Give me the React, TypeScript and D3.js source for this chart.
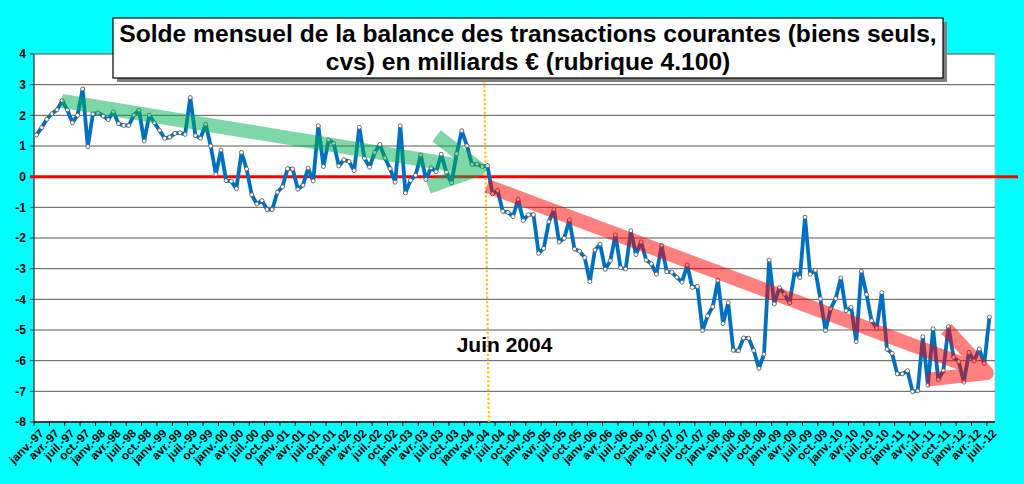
import React, { useRef, useEffect } from 'react';
import * as d3 from 'd3';

// ── Data (milliards €, janv. 1997 → juil. 2012) ───────────────────────────────
const MONTHS = ['janv.', 'févr.', 'mars', 'avr.', 'mai', 'juin', 'juil.', 'août', 'sept.', 'oct.', 'nov.', 'déc.'];
const YEARS = ['97', '98', '99', '00', '01', '02', '03', '04', '05', '06', '07', '08', '09', '10', '11', '12'];

const v1997 = [1.36, 1.6, 1.87, 2.05, 2.18, 2.48, 2.18, 1.76, 2.0, 2.86, 0.98, 2.05];
const v1998 = [2.08, 1.98, 1.86, 2.12, 1.73, 1.67, 1.67, 2.01, 2.17, 1.16, 2.01, 1.76];
const v1999 = [1.51, 1.25, 1.29, 1.41, 1.43, 1.38, 2.58, 1.34, 1.25, 1.71, 1.0, 0.08];
const v2000 = [0.87, -0.13, -0.15, -0.39, 0.79, 0.25, -0.59, -0.89, -0.78, -1.07, -1.07, -0.51];
const v2001 = [-0.33, 0.26, 0.25, -0.41, -0.28, 0.28, -0.14, 1.66, 0.33, 1.2, 1.09, 0.35];
const v2002 = [0.55, 0.49, 0.2, 1.61, 0.6, 0.31, 0.79, 1.05, 0.61, 0.26, -0.18, 1.66];
const v2003 = [-0.53, -0.12, 0.05, 0.71, -0.09, 0.29, 0.16, 0.73, 0.14, -0.2, 0.75, 1.5];
const v2004 = [1.01, 0.4, 0.41, 0.33, 0.36, -0.56, -0.45, -1.13, -1.16, -1.3, -0.74, -1.43];
const v2005 = [-1.24, -1.24, -2.5, -2.34, -1.47, -1.07, -2.13, -2.01, -1.41, -2.36, -2.43, -2.64];
const v2006 = [-3.42, -2.39, -2.2, -3.02, -2.74, -1.9, -2.97, -3.01, -1.76, -2.54, -2.13, -2.72];
const v2007 = [-2.84, -3.18, -2.24, -3.1, -3.12, -3.28, -3.44, -2.88, -3.61, -3.58, -5.02, -4.54];
const v2008 = [-4.24, -3.38, -4.79, -4.11, -5.66, -5.68, -5.26, -5.27, -5.67, -6.25, -5.79, -2.72];
const v2009 = [-4.15, -3.62, -3.83, -4.11, -3.08, -3.29, -1.32, -3.18, -3.05, -3.98, -5.02, -4.31];
const v2010 = [-3.97, -3.3, -4.37, -4.26, -5.38, -3.08, -3.84, -4.7, -4.94, -3.78, -5.63, -5.76];
const v2011 = [-6.43, -6.43, -6.33, -7.01, -6.98, -5.22, -6.8, -4.96, -6.62, -6.33, -4.89, -5.89];
const v2012 = [-6.03, -6.7, -5.73, -6.01, -5.62, -6.09, -4.58];

const SERIES = [v1997, v1998, v1999, v2000, v2001, v2002, v2003, v2004, v2005, v2006, v2007, v2008, v2009, v2010, v2011, v2012];
const Y_TICKS = [4, 3, 2, 1, 0, -1, -2, -3, -4, -5, -6, -7, -8];

const TITLE_1 = 'Solde mensuel de la balance des transactions courantes (biens seuls,';
const TITLE_2 = 'cvs) en milliards € (rubrique 4.100)';
const MARK_LABEL = 'Juin 2004';

// trend arrows, in data space: [month index, value]
const GREEN_ARROW = [[4.9, 2.47], [86.4, 0.25]];
const RED_ARROW = [[87.9, -0.3], [185.5, -6.4]];

const FONT = '"Liberation Sans", Arial, sans-serif';

export default function App() {
  const svgRef = useRef<SVGSVGElement>(null);

  useEffect(() => {
    if (!svgRef.current) return;
    const W = 1024, H = 484;
    const PLOT = { left: 34, right: 995, axisRight: 992, top: 54, bottom: 422 };

    const labels: string[] = [];
    const values: number[] = [];
    SERIES.forEach((yr, k) => yr.forEach((v, m) => {
      labels.push(`${MONTHS[m]}-${YEARS[k]}`);
      values.push(v);
    }));
    const idx = d3.range(values.length);

    const x = d3.scaleBand<number>().domain(idx).range([PLOT.left, PLOT.axisRight]);
    const cx = (i: number) => (x(i) as number) + x.bandwidth() / 2;
    const xi = (i: number) => PLOT.left + (i + 0.5) * x.bandwidth(); // fractional index
    const y = d3.scaleLinear().domain([-8, 4]).range([PLOT.bottom, PLOT.top]);

    const svg = d3.select(svgRef.current);
    svg.selectAll('*').remove();
    svg.attr('width', W).attr('height', H);

    svg.append('rect').attr('width', W).attr('height', H).attr('fill', '#00FFFF');
    svg.append('rect')
      .attr('x', PLOT.left).attr('y', PLOT.top)
      .attr('width', PLOT.right - PLOT.left).attr('height', PLOT.bottom - PLOT.top)
      .attr('fill', '#fff').attr('stroke', '#bbb').attr('stroke-width', 0.8);

    // ── Gridlines ─────────────────────────────────────────────────────────────
    svg.append('g').selectAll('line').data(Y_TICKS.filter(t => t !== -8)).join('line')
      .attr('x1', PLOT.left).attr('x2', PLOT.right)
      .attr('y1', d => y(d)).attr('y2', d => y(d))
      .attr('stroke', '#5a5a5a').attr('stroke-width', 1);

    // ── Y axis ────────────────────────────────────────────────────────────────
    svg.append('line').attr('x1', PLOT.left).attr('x2', PLOT.left)
      .attr('y1', PLOT.top).attr('y2', PLOT.bottom).attr('stroke', '#333').attr('stroke-width', 1.2);
    const ya = svg.append('g');
    ya.selectAll('line').data(Y_TICKS).join('line')
      .attr('x1', PLOT.left - 4).attr('x2', PLOT.left)
      .attr('y1', d => y(d)).attr('y2', d => y(d)).attr('stroke', '#333');
    ya.selectAll('text').data(Y_TICKS).join('text')
      .attr('x', 26).attr('y', d => y(d)).attr('dy', '0.36em')
      .attr('text-anchor', 'end').attr('font-family', FONT).attr('font-weight', 700)
      .attr('font-size', 12).attr('fill', '#000')
      .text(d => String(d));

    // ── X axis ────────────────────────────────────────────────────────────────
    svg.append('line').attr('x1', PLOT.left).attr('x2', PLOT.right)
      .attr('y1', PLOT.bottom).attr('y2', PLOT.bottom).attr('stroke', '#000').attr('stroke-width', 1.3);
    const every3 = idx.filter(i => i % 3 === 0);
    const xa = svg.append('g');
    xa.selectAll('line').data(every3).join('line')
      .attr('x1', d => x(d) as number).attr('x2', d => x(d) as number)
      .attr('y1', PLOT.bottom).attr('y2', PLOT.bottom + 4).attr('stroke', '#000');
    xa.selectAll('text').data(every3).join('text')
      .attr('transform', d => `translate(${cx(d) + 2},${PLOT.bottom + 6}) rotate(-45)`)
      .attr('dy', '0.72em')
      .attr('text-anchor', 'end').attr('font-family', FONT).attr('font-weight', 700)
      .attr('font-size', 11.8).attr('fill', '#000')
      .text(d => labels[d]);

    // ── Zero line ─────────────────────────────────────────────────────────────
    svg.append('line').attr('x1', 30).attr('x2', 1018)
      .attr('y1', y(0)).attr('y2', y(0)).attr('stroke', '#FF0000').attr('stroke-width', 3);

    // ── Juin 2004 marker ──────────────────────────────────────────────────────
    const xMark = x(88) as number;
    svg.append('line').attr('x1', xMark - 0.5).attr('x2', xMark + 4)
      .attr('y1', 81).attr('y2', PLOT.bottom)
      .attr('stroke', '#FFC000').attr('stroke-width', 2.2).attr('stroke-dasharray', '2.2,2.2');
    svg.append('text').attr('x', cx(82)).attr('y', y(-5.72))
      .attr('font-family', FONT).attr('font-weight', 700).attr('font-size', 21).attr('fill', '#000')
      .text(MARK_LABEL);

    // ── Series ────────────────────────────────────────────────────────────────
    const line = d3.line<number>().x((_, i) => cx(i)).y(d => y(d));
    svg.append('path').datum(values).attr('d', line)
      .attr('fill', 'none').attr('stroke', '#0070C0').attr('stroke-width', 3.8)
      .attr('stroke-linejoin', 'round');
    svg.append('g').selectAll('circle').data(values).join('circle')
      .attr('cx', (_, i) => cx(i)).attr('cy', d => y(d)).attr('r', 2)
      .attr('fill', '#fff').attr('stroke', '#555').attr('stroke-width', 0.8);

    // ── Trend arrows ──────────────────────────────────────────────────────────
    const drawArrow = (pts: number[][], color: string, armLen: number, armAngle: number) => {
      const [a, b] = pts.map(([i, v]) => [xi(i), y(v)]);
      const ang = Math.atan2(b[1] - a[1], b[0] - a[0]) + Math.PI;
      const arm = (s: number) => [b[0] + armLen * Math.cos(ang + s * armAngle), b[1] + armLen * Math.sin(ang + s * armAngle)];
      const g = svg.append('g').attr('opacity', 0.5);
      g.append('line').attr('x1', a[0]).attr('y1', a[1]).attr('x2', b[0]).attr('y2', b[1])
        .attr('stroke', color).attr('stroke-width', 14);
      const [u, l] = [arm(1), arm(-1)];
      g.append('path').attr('d', `M${u[0]},${u[1]}L${b[0]},${b[1]}L${l[0]},${l[1]}`)
        .attr('fill', 'none').attr('stroke', color).attr('stroke-width', 14)
        .attr('stroke-linejoin', 'round');
    };
    drawArrow(GREEN_ARROW, '#00B050', 54, 0.5);
    drawArrow(RED_ARROW, '#FF0000', 60, 0.47);

    // ── Title box ─────────────────────────────────────────────────────────────
    const tb = { x: 113, y: 18, w: 830, h: 60 };
    svg.append('rect').attr('x', tb.x + 4).attr('y', tb.y + 4).attr('width', tb.w).attr('height', tb.h).attr('fill', '#808080');
    svg.append('rect').attr('x', tb.x).attr('y', tb.y).attr('width', tb.w).attr('height', tb.h)
      .attr('fill', '#fff').attr('stroke', '#000').attr('stroke-width', 1.2);
    [TITLE_1, TITLE_2].forEach((t, k) => {
      svg.append('text').attr('x', tb.x + tb.w / 2).attr('y', 42 + k * 28)
        .attr('text-anchor', 'middle').attr('font-family', FONT).attr('font-weight', 700)
        .attr('font-size', 24.6).attr('fill', '#000')
        .text(t);
    });
  }, []);

  return (
    <div>
      <style>{'body{margin:0}'}</style>
      <svg ref={svgRef} style={{ display: 'block' }} />
    </div>
  );
}
